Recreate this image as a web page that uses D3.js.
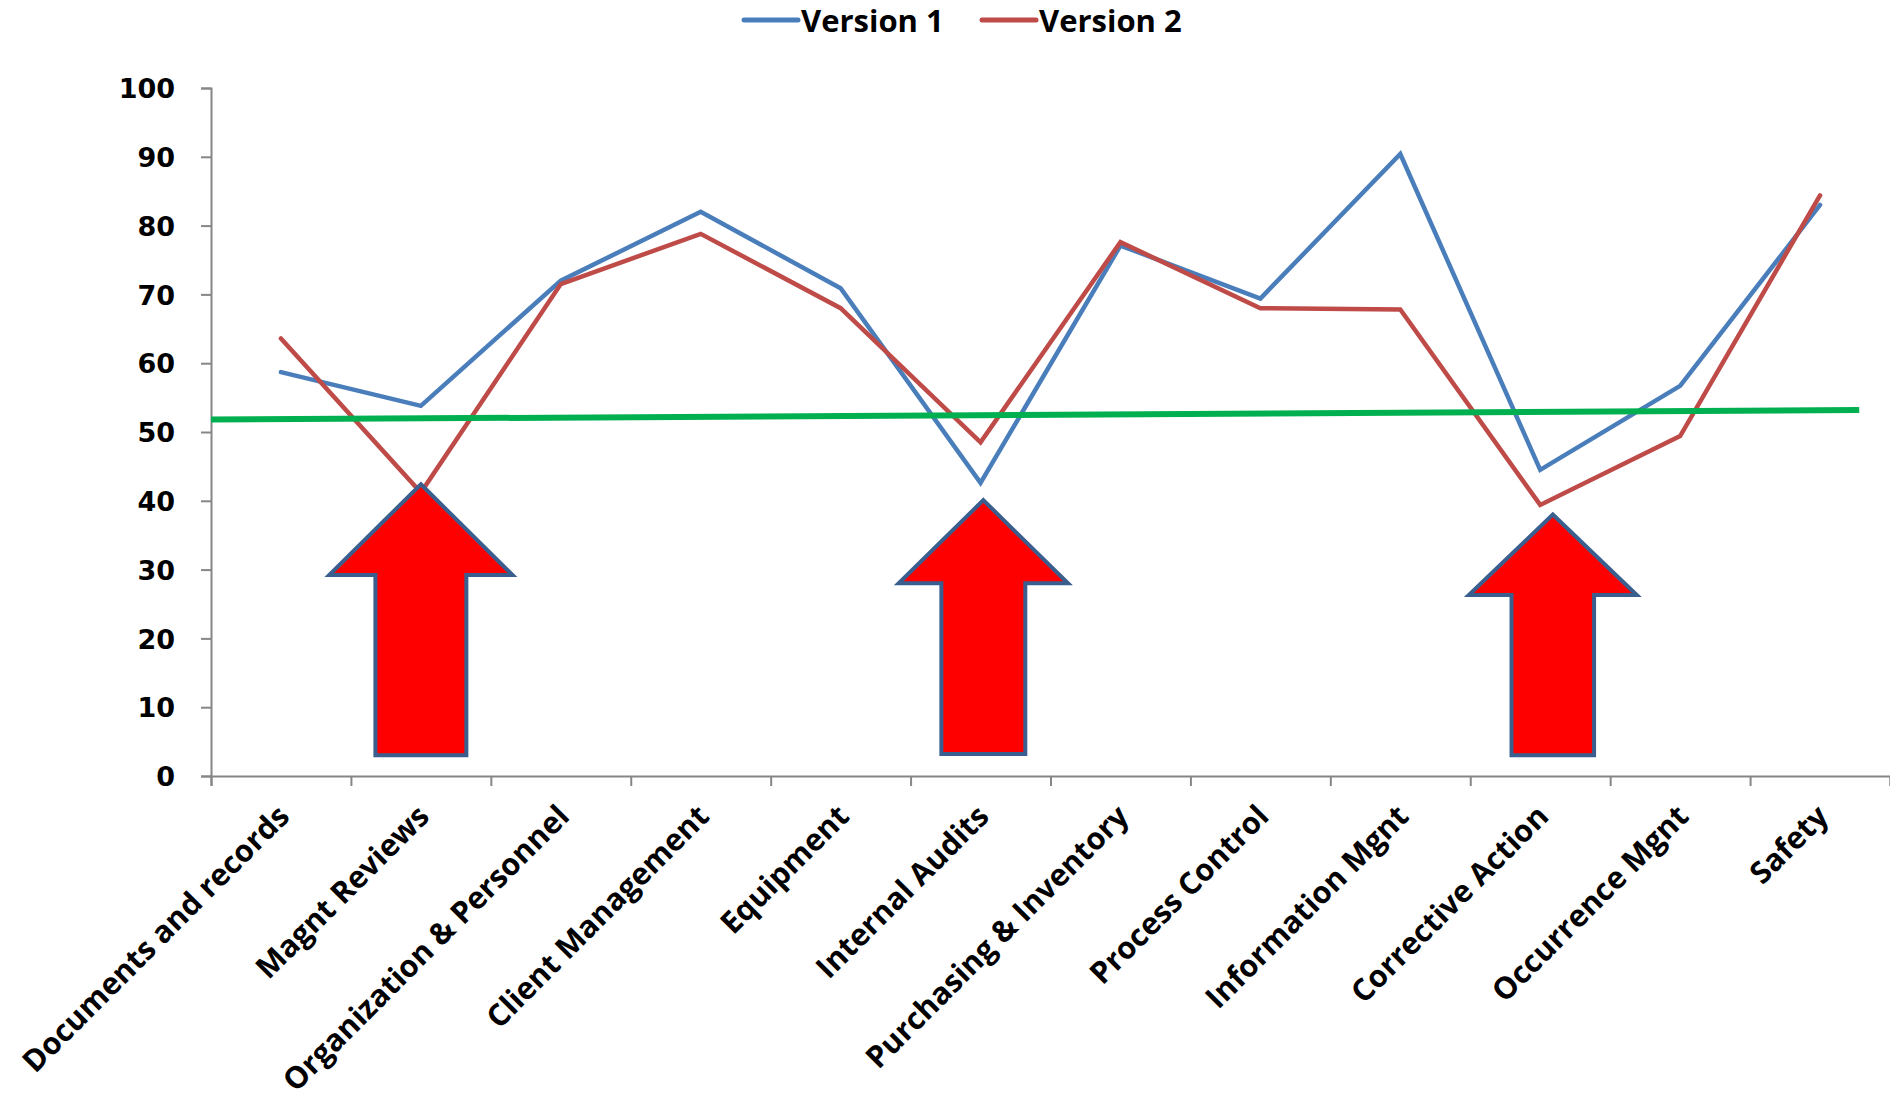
<!DOCTYPE html>
<html><head><meta charset="utf-8">
<script src="https://cdn.jsdelivr.net/npm/d3@7"></script>
<style>
html,body{margin:0;padding:0;background:#fff;}
svg{display:block;}
text{font-family:"Open Sans","Liberation Sans",sans-serif;font-weight:bold;fill:#000;}
</style></head>
<body>
<script>
const categories = ["Documents and records","Magnt Reviews","Organization & Personnel","Client Management","Equipment","Internal Audits","Purchasing & Inventory","Process Control","Information Mgnt","Corrective Action","Occurrence Mgnt","Safety"];
const version1 = [58.7,53.8,72.0,82.0,70.9,42.6,77.1,69.4,90.4,44.5,56.7,83.0];
const version2 = [63.6,41.2,71.5,78.8,68.0,48.5,77.6,68.0,67.8,39.4,49.4,84.4];
const yTicks = [0,10,20,30,40,50,60,70,80,90,100];
// green reference line: [category position, value]
const greenLine = [[-0.5,51.8],[11.28,53.2]];
// highlight arrows: category position, tip value, head-base value, bottom value
const arrowPos = [1,5.02,9.09];
const arrowTip = [42.4,40.1,38.0];
const arrowHeadBase = [29.2,28.0,26.3];
const arrowBottom = [3.0,3.2,3.0];
const arrowHeadWidth = [1.31,1.21,1.20]; // in bands
const arrowShaftWidth = [0.65,0.60,0.59];

const W=1890,H=1106;
const m={left:211,top:88,right:0,bottom:330};
const svg=d3.select("body").append("svg").attr("width",W).attr("height",H);
const x=d3.scaleBand().domain(categories).range([m.left,W-m.right]).paddingInner(0).paddingOuter(0);
const bw=x.bandwidth();
const pos=d3.scaleLinear().domain([-0.5,categories.length-0.5]).range([m.left,W-m.right]);
const y=d3.scaleLinear().domain([0,100]).range([776,88]);

// axes
const axisColor="#868686";
const yAxis=svg.append("g").attr("transform",`translate(${m.left},0)`)
  .call(d3.axisLeft(y).tickValues(yTicks).tickSize(10).tickPadding(26));
yAxis.select(".domain").attr("stroke",axisColor).attr("stroke-width",2);
yAxis.selectAll(".tick line").attr("stroke",axisColor).attr("stroke-width",2);
yAxis.selectAll(".tick text").style("font-size","27px").style("font-family","'DejaVu Sans',sans-serif").attr("fill","#000").attr("dy","0.36em");

const xAxis=svg.append("g").attr("transform",`translate(0,${y(0)})`)
  .call(d3.axisBottom(pos).tickValues(d3.range(-0.5,categories.length,1)).tickSize(10).tickFormat(""));
xAxis.select(".domain").attr("stroke",axisColor).attr("stroke-width",2);
xAxis.selectAll(".tick line").attr("stroke",axisColor).attr("stroke-width",2);

svg.append("g").selectAll("text").data(categories).join("text")
  .attr("transform",d=>`translate(${x(d)+bw/2-6},${y(0)+26}) rotate(-45)`)
  .attr("text-anchor","end").attr("dy","0.75em")
  .style("font-size","30.5px").text(d=>d);

// lines
const line=d3.line().x((d,i)=>x(categories[i])+bw/2).y(d=>y(d));
svg.append("path").datum(version1).attr("d",line).attr("fill","none").attr("stroke","#4a7ebb").attr("stroke-width",4.5).attr("stroke-linejoin","miter").attr("stroke-linecap","round");
svg.append("path").datum(version2).attr("d",line).attr("fill","none").attr("stroke","#be4b48").attr("stroke-width",4.5).attr("stroke-linejoin","miter").attr("stroke-linecap","round");

// green line
svg.append("path").datum(greenLine).attr("d",d3.line().x(d=>pos(d[0])).y(d=>y(d[1])))
  .attr("stroke","#00b050").attr("stroke-width",6).attr("fill","none");

// arrows
arrowPos.forEach((p,k)=>{
  const cx=pos(p);
  const hw=arrowHeadWidth[k]*bw/2, sw=arrowShaftWidth[k]*bw/2;
  const pts=[[cx,y(arrowTip[k])],[cx+hw,y(arrowHeadBase[k])],[cx+sw,y(arrowHeadBase[k])],[cx+sw,y(arrowBottom[k])],
    [cx-sw,y(arrowBottom[k])],[cx-sw,y(arrowHeadBase[k])],[cx-hw,y(arrowHeadBase[k])]];
  svg.append("polygon").attr("points",pts.map(p=>p.join(",")).join(" "))
    .attr("fill","#ff0000").attr("stroke","#3a5f8f").attr("stroke-width",4).attr("stroke-linejoin","miter");
});

// legend
const legend=[["Version 1","#4a7ebb"],["Version 2","#be4b48"]];
const lg=svg.append("g");
const lx=[744,982];
legend.forEach((d,i)=>{
  lg.append("line").attr("x1",lx[i]).attr("x2",lx[i]+54).attr("y1",20).attr("y2",20).attr("stroke",d[1]).attr("stroke-width",5).attr("stroke-linecap","round");
  lg.append("text").attr("x",lx[i]+57).attr("y",21).attr("dy","0.35em").style("font-size","31px").text(d[0]);
});
</script>
</body></html>
